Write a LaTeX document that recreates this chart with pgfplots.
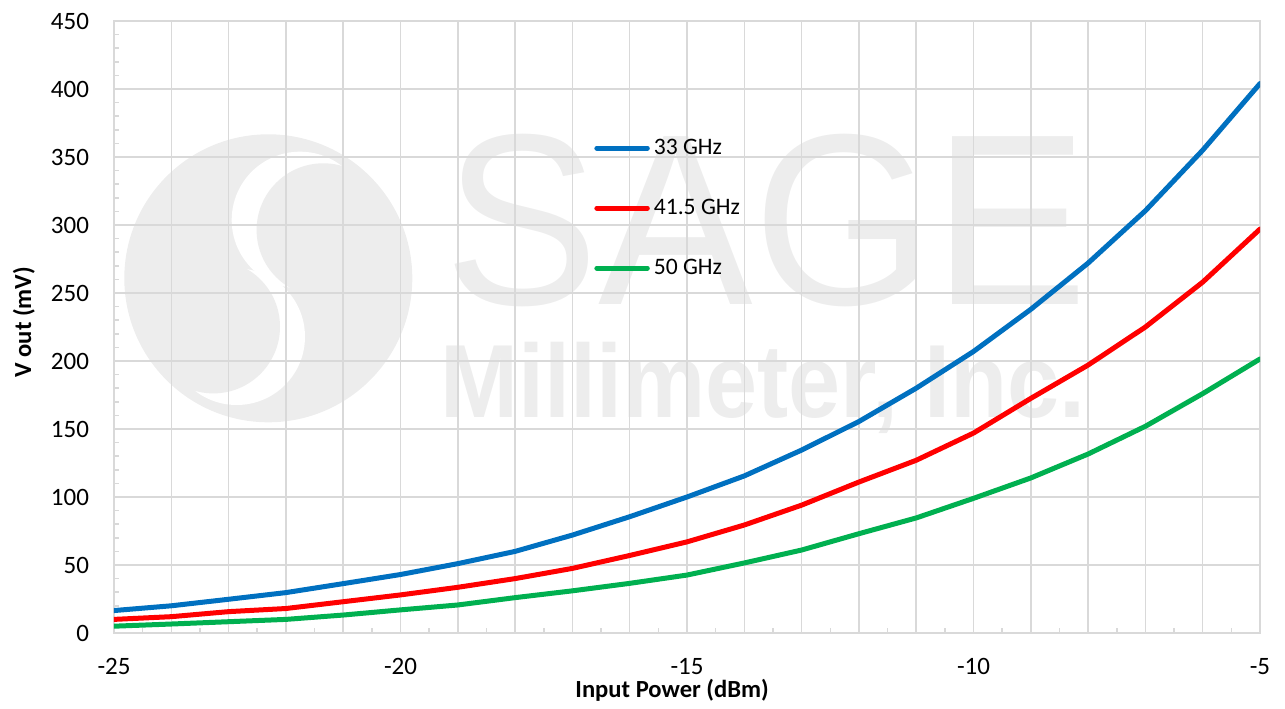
\documentclass[border=0pt]{standalone}
\usepackage{pgfplots}
\pgfplotsset{compat=1.18}
\usepackage{fontspec}
\setmainfont{Carlito}
\newfontfamily\wmfont{Liberation Sans}
\definecolor{gridgray}{RGB}{217,217,217}
\definecolor{wm}{RGB}{237,237,237}
\definecolor{cblue}{RGB}{0,112,192}
\definecolor{cred}{RGB}{255,0,0}
\definecolor{cgreen}{RGB}{0,176,80}
\begin{document}
\begin{tikzpicture}
% watermark, in pixel units of the 1285x704 reference
\begin{scope}[shift={(-57pt,316.5pt)}, x=0.5pt, y=-0.5pt]
\path (0,0) rectangle (1285,704);
\fill[wm] (268.3,278.3) circle (144);
\fill[white] (300,220) circle (68.3);
\fill[wm] (323.3,230) circle (66.7);
\fill[white] (236.7,336.7) circle (68.3);
\fill[wm] (213.3,326.7) circle (66.7);
\node[anchor=base west, inner sep=0pt, text=wm, font=\wmfont\fontsize{122}{122}\selectfont, xscale=0.95] at (444,305) {SAGE};
\node[anchor=base west, inner sep=0pt, text=wm, font=\wmfont\bfseries\fontsize{52}{52}\selectfont, xscale=0.9] at (440,418) {Millimeter, Inc.};
\end{scope}
\begin{axis}[
  at={(0,0)}, anchor=south west,
  scale only axis, width=573pt, height=306pt,
  xmin=-25, xmax=-5, ymin=0, ymax=450,
  xtick={-25,-20,...,-5}, ytick={0,50,...,450},
  extra x ticks={-24,-23,-22,-21,-19,-18,-17,-16,-14,-13,-12,-11,-9,-8,-7,-6},
  extra x tick labels={},
  extra x tick style={grid=major, major tick length=0pt},
  minor xtick={-24.5,-23.5,...,-5.5},
  minor ytick={10,20,...,440},
  grid=major,
  major grid style={gridgray, line width=0.75pt},
  axis line style={gridgray, line width=0.75pt},
  every tick/.style={gridgray, line width=0.75pt},
  major tick length=0pt, minor tick length=2.6pt,
  tick align=inside, tick pos=left,
  /pgf/number format/assume math mode=true,
  ticklabel style={font=\fontsize{12.5}{15}\selectfont, text=black},
  xticklabel style={yshift=-9pt},
  yticklabel style={xshift=-9pt},
  xlabel={Input Power (dBm)}, ylabel={V out (mV)},
  xlabel style={at={(axis description cs:0.487,-0.1062)}, anchor=base, font=\bfseries\fontsize{12.3}{14}\selectfont},
  ylabel style={at={(axis description cs:-0.0724,0.508)}, anchor=base, font=\bfseries\fontsize{12.3}{14}\selectfont},
  legend style={draw=none, fill=none, at={(axis description cs:0.4188,0.8093)}, anchor=north west,
    inner sep=0pt, row sep=20pt, column sep=2pt, font=\fontsize{11.8}{14}\selectfont,
    nodes={text height=8pt, text depth=2pt, inner sep=0pt}},
  legend cell align=left,
  legend image code/.code={\draw[#1, line cap=round] (1.25pt,0pt) -- (26.5pt,0pt);},
]
\addplot[cblue, line width=2.5pt, line cap=round, line join=round] coordinates {
(-25,16.5) (-24,20) (-23,24.8) (-22,29.7) (-21,36.3) (-20,43) (-19,51) (-18,60) (-17,72) (-16,85.5)
(-15,100) (-14,115.5) (-13,134.5) (-12,155.5) (-11,180) (-10,207) (-9,238) (-8,272) (-7,310.5) (-6,355) (-5,404)};
\addlegendentry{33 GHz}
\addplot[cred, line width=2.5pt, line cap=round, line join=round] coordinates {
(-25,10) (-24,12) (-23,15.7) (-22,18) (-21,23) (-20,28) (-19,33.6) (-18,40) (-17,47.5) (-16,57)
(-15,67) (-14,79.4) (-13,94) (-12,111) (-11,127) (-10,147) (-9,172.5) (-8,197) (-7,225) (-6,258) (-5,297)};
\addlegendentry{41.5 GHz}
\addplot[cgreen, line width=2.5pt, line cap=round, line join=round] coordinates {
(-25,5) (-24,6.6) (-23,8.3) (-22,10) (-21,13.2) (-20,17) (-19,20.6) (-18,26) (-17,31) (-16,36.5)
(-15,42.6) (-14,51.5) (-13,61) (-12,73) (-11,84.6) (-10,99) (-9,114) (-8,131.6) (-7,152) (-6,176) (-5,201.5)};
\addlegendentry{50 GHz}
\end{axis}
\end{tikzpicture}
\end{document}
